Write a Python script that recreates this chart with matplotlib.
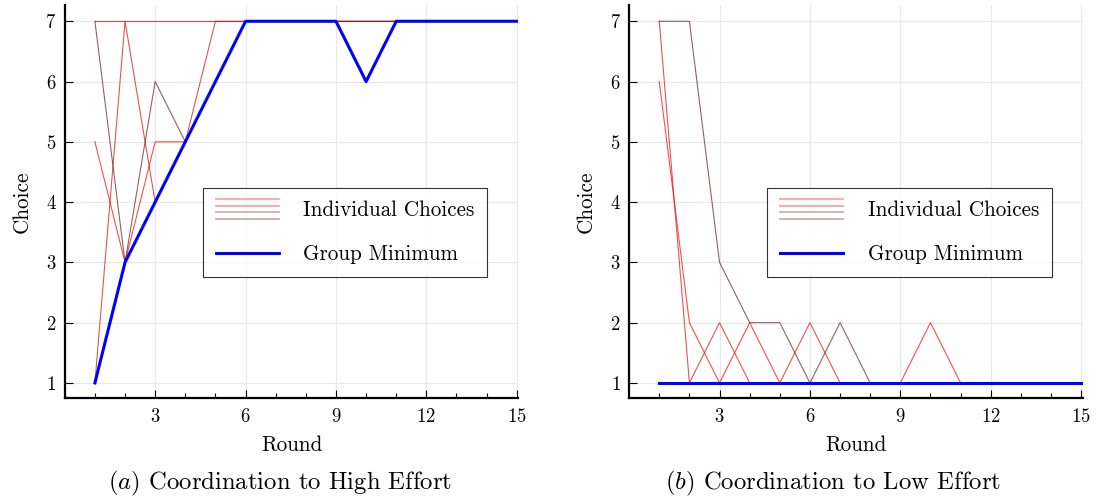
import numpy as np
import matplotlib
matplotlib.use('Agg')
import matplotlib.pyplot as plt
from matplotlib.lines import Line2D
from matplotlib.legend_handler import HandlerBase
from matplotlib.ticker import MultipleLocator

plt.rcParams['font.family'] = 'serif'
plt.rcParams['font.serif'] = ['cmr10', 'DejaVu Serif']
plt.rcParams['mathtext.fontset'] = 'cm'
plt.rcParams['axes.formatter.use_mathtext'] = True

rounds = np.arange(1, 16)

# (a) coordination to high effort: one row per player
high_p1 = [5, 3, 5, 5, 6, 7, 7, 7, 7, 7, 7, 7, 7, 7, 7]
high_p2 = [1, 7, 4, 5, 7, 7, 7, 7, 7, 6, 7, 7, 7, 7, 7]
high_p3 = [7, 7, 7, 7, 7, 7, 7, 7, 7, 7, 7, 7, 7, 7, 7]
high_p4 = [7, 3, 6, 5, 6, 7, 7, 7, 7, 7, 7, 7, 7, 7, 7]

# (b) coordination to low effort
low_p1 = [6, 2, 1, 2, 1, 2, 1, 1, 1, 2, 1, 1, 1, 1, 1]
low_p2 = [7, 1, 2, 1, 1, 1, 1, 1, 1, 1, 1, 1, 1, 1, 1]
low_p3 = [1, 1, 1, 1, 1, 1, 1, 1, 1, 1, 1, 1, 1, 1, 1]
low_p4 = [7, 7, 3, 2, 2, 1, 2, 1, 1, 1, 1, 1, 1, 1, 1]

high_players = [high_p1, high_p2, high_p3, high_p4]
low_players = [low_p1, low_p2, low_p3, low_p4]

x_ticks = [3, 6, 9, 12, 15]
y_ticks = [1, 2, 3, 4, 5, 6, 7]

player_colors = ['#ff0000', '#d01010', '#9a1a1a', '#602020']
captions = ['$(a)$ Coordination to High Effort', '$(b)$ Coordination to Low Effort']


class HandlerStack(HandlerBase):
    # four thin lines stacked on top of each other
    def create_artists(self, legend, orig_handle, xdescent, ydescent,
                       width, height, fontsize, trans):
        arts = []
        gap = height * 0.45
        for i, c in enumerate(player_colors):
            y = height / 2 - ydescent + (1.5 - i) * gap
            ln = Line2D([-xdescent, width - xdescent], [y, y], color=c,
                        alpha=0.4, lw=1.2, transform=trans)
            arts.append(ln)
        return arts


fig = plt.figure(figsize=(10.98, 5), dpi=100)
positions = [[0.059, 0.204, 0.413, 0.786], [0.573, 0.204, 0.413, 0.786]]
caption_x = [0.255, 0.759]

for k, players in enumerate([high_players, low_players]):
    ax = fig.add_axes(positions[k])
    for i, p in enumerate(players):
        ax.plot(rounds, p, color=player_colors[i], lw=0.8, alpha=0.7)
    group_min = np.min(np.array(players), axis=0)
    ax.plot(rounds, group_min, color='#0000ff', lw=2.2, zorder=5)

    ax.set_xlim(0, 15.05)
    ax.set_ylim(0.75, 7.27)
    ax.set_xticks(x_ticks)
    ax.xaxis.set_minor_locator(MultipleLocator(1))
    ax.set_yticks(y_ticks)
    ax.tick_params(axis='both', which='major', direction='in', length=5.5,
                   width=0.8, labelsize=13.5)
    ax.tick_params(axis='x', which='minor', direction='in', length=3.5, width=0.8)
    ax.tick_params(axis='x', pad=7)
    ax.tick_params(axis='y', pad=6)
    ax.grid(True, which='major', color='#e8e8e8', lw=0.9)
    ax.set_axisbelow(True)
    for s in ['top', 'right']:
        ax.spines[s].set_visible(False)
    for s in ['left', 'bottom']:
        ax.spines[s].set_linewidth(1.6)

    ax.set_xlabel('Round', fontsize=15.3, labelpad=7)
    ax.set_ylabel('Choice', fontsize=15.3, labelpad=10)

    h_ind = Line2D([], [], color='red')
    h_min = Line2D([], [], color='#0000ff', lw=2.2)
    leg = ax.legend([h_ind, h_min], ['Individual Choices', 'Group Minimum'],
                    handler_map={h_ind: HandlerStack()},
                    loc='center', bbox_to_anchor=(0.618, 0.421),
                    fontsize=15.2, frameon=True, fancybox=False,
                    handlelength=3.0, handletextpad=1.15, labelspacing=1.15,
                    borderpad=0.6)
    leg.get_frame().set_edgecolor('black')
    leg.get_frame().set_linewidth(0.8)

    fig.text(caption_x[k], 0.034, captions[k], ha='center', va='center',
             fontsize=17.8)

plt.savefig('out.png', dpi=100)
